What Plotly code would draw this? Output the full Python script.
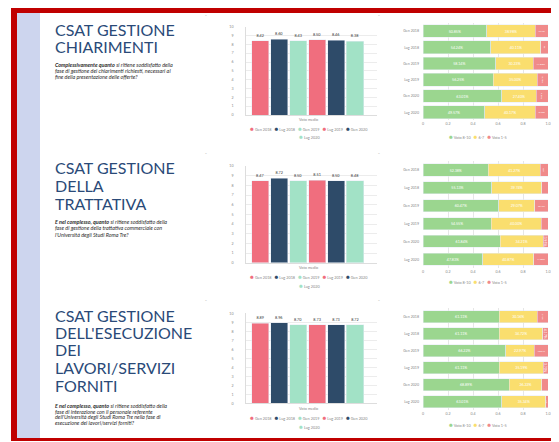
import plotly.graph_objects as go

# the page puts the figure 8px from the top-left corner, so the figure is drawn that much smaller
OX, OY = 8, 8
FW, FH = 559 - OX, 442 - OY

periodi = ["Gen 2018", "Lug 2018", "Gen 2019", "Lug 2019", "Gen 2020", "Lug 2020"]
colori_periodi = ["#f06e7e", "#2e4b69", "#a2e2c6", "#f06e7e", "#2e4b69", "#a2e2c6"]

csat_chiarimenti = [8.42, 8.60, 8.43, 8.50, 8.46, 8.38]
csat_trattativa = [8.47, 8.72, 8.50, 8.51, 8.50, 8.48]
csat_esecuzione = [8.89, 8.96, 8.70, 8.73, 8.73, 8.72]

fasce = ["Voto 8-10", "6-7", "Voto 1-5"]
colori_fasce = ["#9bd68f", "#fade6e", "#f08a8a"]

chiarimenti_alti = [50.85, 54.24, 58.14, 56.25, 63.01, 49.57]
chiarimenti_medi = [38.98, 40.11, 30.23, 35.00, 27.40, 40.17]
chiarimenti_bassi = [10.17, 5.65, 11.63, 8.75, 9.59, 10.26]

trattativa_alti = [52.38, 55.13, 60.47, 54.55, 61.84, 47.83]
trattativa_medi = [41.27, 39.74, 29.07, 40.00, 34.21, 40.87]
trattativa_bassi = [6.35, 5.13, 10.46, 5.45, 3.95, 11.30]

esecuzione_alti = [61.11, 61.11, 66.22, 61.11, 68.89, 63.01]
esecuzione_medi = [30.16, 34.72, 22.97, 35.19, 26.22, 35.34]
esecuzione_bassi = [8.73, 4.17, 10.81, 3.70, 4.89, 1.65]

titoli = [
    ["CSAT GESTIONE", "CHIARIMENTI"],
    ["CSAT GESTIONE", "DELLA", "TRATTATIVA"],
    ["CSAT GESTIONE", "DELL'ESECUZIONE", "DEI", "LAVORI/SERVIZI", "FORNITI"],
]
sottotitoli = [
    ["<b>Complessivamente quanto</b> si ritiene soddisfatto della",
     "fase di gestione dei chiarimenti richiesti, necessari al",
     "fine della presentazione delle offerte?"],
    ["<b>E nel complesso, quanto</b> si ritiene soddisfatto della",
     "fase di gestione della trattativa commerciale con",
     "l'Università degli Studi Roma Tre?"],
    ["<b>E nel complesso, quanto</b> si ritiene soddisfatto della",
     "fase di interazione con il personale referente",
     "dell'Università degli Studi Roma Tre nella fase di",
     "esecuzione dei lavori/servizi forniti?"],
]
titolo_asse = "Voto medio"


def px(x):
    return (x - OX) / FW


def py(y):
    return 1 - (y - OY) / FH


sezioni = [
    dict(csat=csat_chiarimenti, stack=(chiarimenti_alti, chiarimenti_medi, chiarimenti_bassi),
         title_y=[29.2, 46.9], sub_y=[65, 70.8, 76.6],
         bar_y=(26.7, 115), bar_title=119.5, bar_leg=(128, 136.5),
         st_y=(22.9, 120.4), st_leg=136.7, st_w=0.78, dash=15),
    dict(csat=csat_trattativa, stack=(trattativa_alti, trattativa_medi, trattativa_bassi),
         title_y=[167.5, 185.9, 203.2], sub_y=[221.7, 228.3, 235],
         bar_y=(166, 262.7), bar_title=267.7, bar_leg=(276.7, 285),
         st_y=(161.1, 268.2), st_leg=281.5, st_w=0.68, dash=153),
    dict(csat=csat_esecuzione, stack=(esecuzione_alti, esecuzione_medi, esecuzione_bassi),
         title_y=[315, 332.5, 349.9, 367.5, 385.9], sub_y=[406, 411.6, 417.2, 422.8],
         bar_y=(313.3, 403.3), bar_title=408.3, bar_leg=(417.5, 426),
         st_y=(308.2, 410.2), st_leg=424.5, st_w=0.7, dash=300),
]

fig = go.Figure()
shapes = [
    dict(type="rect", xref="paper", yref="paper", x0=px(11), x1=px(570), y0=py(441), y1=py(7),
         fillcolor="#c00000", line=dict(width=0), layer="below"),
    dict(type="rect", xref="paper", yref="paper", x0=px(17), x1=px(570), y0=py(438), y1=py(13),
         fillcolor="white", line=dict(width=0), layer="below"),
    dict(type="rect", xref="paper", yref="paper", x0=px(17), x1=px(40), y0=py(438), y1=py(13),
         fillcolor="#cdd5ee", line=dict(width=0), layer="below"),
]
annotations = []
layout_axes = {}


def testo(x, y, t, size, color, family="Lato", xanchor="left"):
    annotations.append(dict(x=px(x), y=py(y), xref="paper", yref="paper", text=t, showarrow=False,
                            xanchor=xanchor, yanchor="middle", borderpad=0,
                            font=dict(size=size, color=color, family=family)))


def legenda(nomi, colori):
    return "&nbsp;&nbsp;&nbsp;".join(
        f"<span style='color:{c};font-size:6.5px'>●</span>&nbsp;{n}" for n, c in zip(nomi, colori))


for i, s in enumerate(sezioni):
    xb, yb = f"x{2 * i + 1}", f"y{2 * i + 1}"
    xs, ys = f"x{2 * i + 2}", f"y{2 * i + 2}"

    for riga, y in zip(titoli[i], s["title_y"]):
        testo(54, y, riga, 16, "#2a4a78")
    for riga, y in zip(sottotitoli[i], s["sub_y"]):
        testo(54, y, f"<i>{riga}</i>", 5.4, "#2b2b2b")

    for p, v, c in zip(periodi, s["csat"], colori_periodi):
        fig.add_trace(go.Bar(x=[p], y=[v], marker_color=c, width=0.9, text=[f"{v:.2f}"],
                             textposition="outside", textfont=dict(size=3.8, color="#333"),
                             cliponaxis=False, xaxis=xb, yaxis=yb, showlegend=False))

    for vals, nome, c in zip(s["stack"], fasce, colori_fasce):
        fig.add_trace(go.Bar(y=periodi, x=[v / 100 for v in vals], orientation="h", name=nome,
                             marker_color=c, width=s["st_w"], texttemplate="%{x:.2%}",
                             textposition="inside", insidetextanchor="middle",
                             textfont=dict(size=3.6, color="white"),
                             xaxis=xs, yaxis=ys, showlegend=False))

    b0, b1 = s["bar_y"]
    layout_axes[f"xaxis{2 * i + 1}"] = dict(
        domain=[px(246), px(377)], anchor=yb, type="category", categoryarray=periodi,
        range=[-0.75, 6.16], showticklabels=False, showgrid=False, zeroline=False,
        showline=True, linecolor="#dddddd", linewidth=0.6, automargin=False)
    layout_axes[f"yaxis{2 * i + 1}"] = dict(
        domain=[py(b1), py(b0)], anchor=xb, range=[0, 10], dtick=1, gridcolor="#ececec",
        gridwidth=0.6, zeroline=False, showline=True, linecolor="#dddddd", linewidth=0.6,
        tickfont=dict(size=3.6, color="#888"), ticklabelstandoff=11, automargin=False)

    s0, s1 = s["st_y"]
    layout_axes[f"xaxis{2 * i + 2}"] = dict(
        domain=[px(423), px(548)], anchor=ys, range=[0, 1],
        tickvals=[0, 0.2, 0.4, 0.6, 0.8, 1.0], ticktext=["0", "0.2", "0.4", "0.6", "0.8", "1.0"],
        gridcolor="#e6e6e6", gridwidth=0.6, zeroline=False, tickfont=dict(size=3.6, color="#888"),
        automargin=False)
    layout_axes[f"yaxis{2 * i + 2}"] = dict(
        domain=[py(s1), py(s0)], anchor=xs, type="category", categoryarray=periodi,
        autorange="reversed", showgrid=False, tickfont=dict(size=3.6, color="#888"),
        ticklabelstandoff=3, automargin=False)

    testo(308, s["bar_title"], titolo_asse, 3.8, "#888", xanchor="center")
    testo(309, s["bar_leg"][0], legenda(periodi[:5], colori_periodi[:5]), 3.8, "#888", xanchor="center")
    testo(309, s["bar_leg"][1], legenda(periodi[5:], colori_periodi[5:]), 3.8, "#888", xanchor="center")
    testo(478, s["st_leg"], legenda(fasce, colori_fasce), 3.8, "#888", xanchor="center")
    testo(206, s["dash"], "-", 5, "#aaa", xanchor="center")
    testo(379, s["dash"], "-", 5, "#aaa", xanchor="center")

fig.update_layout(
    width=FW, height=FH, margin=dict(l=0, r=0, t=0, b=0),
    paper_bgcolor="white", plot_bgcolor="rgba(0,0,0,0)",
    barmode="stack", showlegend=False,
    shapes=shapes, annotations=annotations,
    font=dict(family="Lato"),
    **layout_axes,
)

fig.write_html("out.html")
